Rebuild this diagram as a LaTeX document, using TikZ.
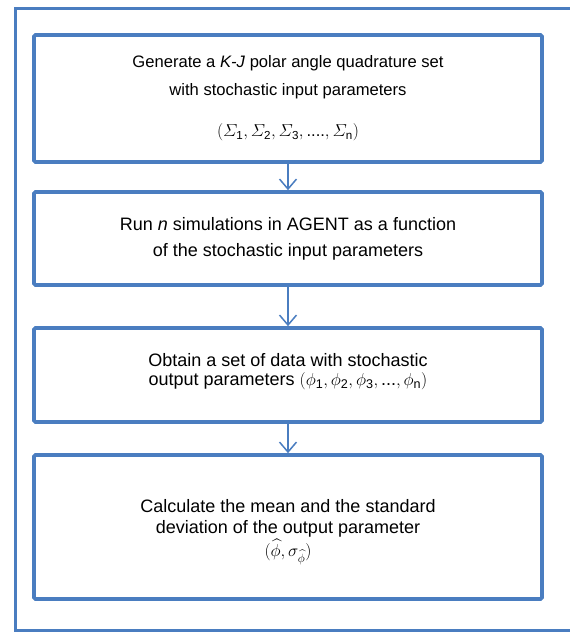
\documentclass[tikz,border=0pt]{standalone}
\usepackage{amsmath}
\usepackage{fontspec}
\setmainfont{Liberation Sans}
\usetikzlibrary{arrows.meta}
\definecolor{frameblue}{RGB}{74,125,192}
\tikzset{
  stepbox/.style={draw=frameblue, line width=3.6pt, rounded corners=1.5pt,
    minimum width=508pt, align=center, inner sep=0pt},
  flow/.style={draw=frameblue, line width=1.5pt,
    -{Straight Barb[length=10pt,width=17pt,line width=1.5pt]}},
}
\begin{document}
\begin{tikzpicture}[x=1pt,y=-1pt]
\useasboundingbox (0,0) rectangle (570,633);
\begin{scope}
  \clip (0,0) rectangle (570,633);
  \draw[frameblue, line width=3pt] (15,8) rectangle (571,630);
\end{scope}

\node[stepbox, minimum height=127pt, font=\fontsize{16.6}{28}\selectfont] (s1) at (288,98.5)
  {Generate a \textit{K-J} polar angle quadrature set\\
   with stochastic input parameters\\[13pt]
   $(\varSigma_{\text{1}}, \varSigma_{\text{2}}, \varSigma_{\text{3}}, \text{....}, \varSigma_{\text{n}})$};
\node[stepbox, minimum height=93pt, font=\fontsize{18}{26}\selectfont] (s2) at (288,238.5)
  {Run \textit{n} simulations in AGENT as a function\\
   of the stochastic input parameters};
\node[stepbox, minimum height=94pt, font=\fontsize{18}{20.5}\selectfont] (s3) at (288,375)
  {Obtain a set of data with stochastic\\[-1pt]
   output parameters $(\phi_{\text{1}}, \phi_{\text{2}}, \phi_{\text{3}}, \text{...}, \phi_{\text{n}})$\\[-9pt]\mbox{}};
\node[stepbox, minimum height=144pt, font=\fontsize{18}{21.5}\selectfont] (s4) at (288,527)
  {\\[1pt]Calculate the mean and the standard\\
   deviation of the output parameter\\[1pt]
   $(\widehat{\phi}, \sigma_{\widehat{\phi}})$};

\draw[flow] (s1.south) -- (s2.north);
\draw[flow] (s2.south) -- (s3.north);
\draw[flow] (s3.south) -- (s4.north);
\end{tikzpicture}
\end{document}
